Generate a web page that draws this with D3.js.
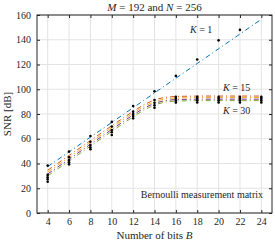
<!DOCTYPE html>
<html>
<head>
<meta charset="utf-8">
<script src="https://cdn.jsdelivr.net/npm/d3@7"></script>
<style>
  body { margin: 0; background: #fff; }
  svg text { font-family: "Liberation Serif", "DejaVu Serif", serif; fill: #262626; }
</style>
</head>
<body>
<svg id="chart" width="275" height="241"></svg>
<script>
// bits where the analytic curves are evaluated
const curveBits = [4, 6, 8, 10, 12, 13, 14, 15, 16, 18, 20, 22, 24];
const curveK1  = [37.5, 49.4, 61.3, 73.2, 85.1, 91.0, 97.0, 103.0, 108.9, 120.8, 132.7, 144.6, 156.5];
const curveK15 = [34.5, 46.5, 58.5, 70.5, 82.2, 87.5, 91.5, 93.5, 94.2, 94.5, 94.5, 94.5, 94.5];
const curveK20 = [33.0, 45.0, 57.0, 69.0, 80.8, 86.1, 90.1, 92.3, 93.0, 93.3, 93.3, 93.3, 93.3];
const curveK25 = [31.5, 43.5, 55.5, 67.5, 79.3, 84.7, 88.7, 90.9, 91.7, 92.0, 92.0, 92.0, 92.0];
const curveK30 = [30.0, 42.0, 54.0, 66.0, 77.8, 83.2, 87.4, 89.7, 90.5, 90.8, 90.8, 90.8, 90.8];

// simulated points (black dots)
const simBits = [4, 6, 8, 10, 12, 14, 16, 18, 20, 22];
const simK1  = [38.3, 49.6, 62.2, 73.6, 86.5, 98.3, 110.8, 124.0, 139.5, 148.0];
const simK15 = [30.8, 45.0, 57.6, 69.8, 81.9, 91.3, 93.8, 93.8, 93.8, 93.8];
const simK20 = [28.9, 42.8, 55.0, 67.0, 80.0, 89.0, 92.3, 92.4, 92.4, 92.4];
const simK25 = [27.2, 41.0, 53.0, 65.2, 78.4, 87.0, 90.8, 90.9, 90.9, 90.9];
const simK30 = [25.3, 39.3, 51.5, 63.0, 76.5, 85.0, 89.2, 89.3, 89.3, 89.3];
const simExtraBits = [24, 24, 24, 24];
const simExtraVals = [93.8, 92.4, 90.9, 89.3];

const xTicks = [4, 6, 8, 10, 12, 14, 16, 18, 20, 22, 24];
const yTicks = [0, 20, 40, 60, 80, 100, 120, 140, 160];
const colors = ['#0072BD', '#D95319', '#EDB120', '#7E2F8E', '#77AC30'];

const svg = d3.select('#chart');
const mLeft = 37, mRight = 272, mTop = 15, mBottom = 213;

const x = d3.scaleLinear().domain([3, 25]).range([mLeft, mRight]);
const y = d3.scaleLinear().domain([0, 160]).range([mBottom, mTop]);

// grid
const grid = svg.append('g');
grid.selectAll('.gx').data(xTicks).enter().append('line')
  .attr('x1', d => x(d)).attr('x2', d => x(d))
  .attr('y1', mTop).attr('y2', mBottom)
  .attr('stroke', '#e3e3e3').attr('stroke-width', 1);
grid.selectAll('.gy').data(yTicks).enter().append('line')
  .attr('x1', mLeft).attr('x2', mRight)
  .attr('y1', d => y(d)).attr('y2', d => y(d))
  .attr('stroke', '#e3e3e3').attr('stroke-width', 1);

// curves
const curves = [curveK1, curveK15, curveK20, curveK25, curveK30];
const line = d3.line().x(d => x(d[0])).y(d => y(d[1]));
curves.forEach((vals, i) => {
  svg.append('path')
    .datum(curveBits.map((b, j) => [b, vals[j]]))
    .attr('d', line)
    .attr('fill', 'none')
    .attr('stroke', colors[i])
    .attr('stroke-width', 1)
    .attr('stroke-dasharray', '5,3,1,3');
});

// dots
const sims = [simK1, simK15, simK20, simK25, simK30];
const pts = [];
sims.forEach(vals => vals.forEach((v, j) => pts.push([simBits[j], v])));
simExtraBits.forEach((b, j) => pts.push([b, simExtraVals[j]]));
svg.append('g').selectAll('circle').data(pts).enter().append('circle')
  .attr('cx', d => x(d[0])).attr('cy', d => y(d[1]))
  .attr('r', 1.3).attr('fill', '#000');

// axes
const xAxis = d3.axisBottom(x).tickValues(xTicks).tickSizeInner(-3).tickSizeOuter(0).tickPadding(5);
const yAxis = d3.axisLeft(y).tickValues(yTicks).tickSizeInner(-3).tickSizeOuter(0).tickPadding(6);
const gx = svg.append('g').attr('transform', `translate(0,${mBottom})`).call(xAxis);
const gy = svg.append('g').attr('transform', `translate(${mLeft},0)`).call(yAxis);
const gxt = svg.append('g').attr('transform', `translate(0,${mTop})`)
  .call(d3.axisTop(x).tickValues(xTicks).tickSizeInner(-3).tickSizeOuter(0).tickFormat(''));
const gyr = svg.append('g').attr('transform', `translate(${mRight},0)`)
  .call(d3.axisRight(y).tickValues(yTicks).tickSizeInner(-3).tickSizeOuter(0).tickFormat(''));
[gx, gy, gxt, gyr].forEach(g => {
  g.select('.domain').remove();
  g.selectAll('.tick line').attr('stroke', '#262626');
  g.selectAll('text').style('font-size', '10px').attr('fill', '#262626');
});

svg.append('rect')
  .attr('x', mLeft).attr('y', mTop)
  .attr('width', mRight - mLeft).attr('height', mBottom - mTop)
  .attr('fill', 'none').attr('stroke', '#262626').attr('stroke-width', 1);

// labels
svg.append('text').attr('x', (mLeft + mRight) / 2).attr('y', 239)
  .attr('text-anchor', 'middle').style('font-size', '11px')
  .html('Number of bits <tspan font-style="italic">B</tspan>');
svg.append('text')
  .attr('transform', `translate(11,${(mTop + mBottom) / 2}) rotate(-90)`)
  .attr('text-anchor', 'middle').style('font-size', '11px')
  .text('SNR [dB]');
svg.append('text').attr('x', (mLeft + mRight) / 2).attr('y', 11)
  .attr('text-anchor', 'middle').style('font-size', '11px')
  .html('<tspan font-style="italic">M</tspan> = 192 and <tspan font-style="italic">N</tspan> = 256');

svg.append('text').attr('x', 190).attr('y', 33).style('font-size', '10px')
  .html('<tspan font-style="italic">K</tspan> = 1');
svg.append('text').attr('x', 223).attr('y', 91).style('font-size', '10px')
  .html('<tspan font-style="italic">K</tspan> = 15');
svg.append('text').attr('x', 223).attr('y', 114).style('font-size', '10px')
  .html('<tspan font-style="italic">K</tspan> = 30');
svg.append('text').attr('x', 263).attr('y', 198).attr('text-anchor', 'end')
  .style('font-size', '10px').text('Bernoulli measurement matrix');
</script>
</body>
</html>
